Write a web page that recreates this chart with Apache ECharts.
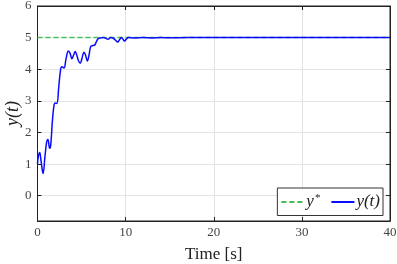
<!DOCTYPE html>
<html><head><meta charset="utf-8">
<script src="https://cdn.jsdelivr.net/npm/echarts@6/dist/echarts.min.js"></script>
<style>html,body{margin:0;padding:0;background:#fff}#c{width:397px;height:264px}</style>
</head><body><div id="c"></div>
<script>
var tValues = [0,0.1,0.25,0.4,0.63,0.85,1.05,1.18,1.38,1.5,1.7,1.88,2.0,2.2,2.4,2.6,2.75,3.0,3.25,3.5,3.7,3.9,4.1,4.28,4.45,4.65,4.85,5.05,5.28,5.45,5.66,5.85,6.04,6.3,6.5,6.7,6.9,7.2,7.5,7.8,8.0,8.3,8.6,8.85,9.1,9.3,9.5,9.7,9.87,10.1,10.3,11,12,13,14,15,17,20,25,30,35,40];
var yValues = [1.0,1.25,1.37,1.1,0.70,1.25,1.72,1.78,1.50,1.6,2.4,2.87,2.93,2.92,3.4,3.95,4.08,4.04,4.35,4.58,4.5,4.33,4.45,4.56,4.45,4.27,4.19,4.35,4.54,4.45,4.26,4.45,4.72,4.75,4.77,4.88,4.97,4.99,5.0,4.97,4.95,5.0,4.98,4.92,4.86,4.93,5.0,4.95,4.89,4.96,5.0,4.99,5.0,4.99,5.0,4.995,5.0,5.0,5.0,5.0,5.0,5.0];
var refValue = 5;
var xRange = [0, 40];
var yTicks = [0,1,2,3,4,5,6];
var yRange = [-0.8, 6];

var lineData = tValues.map(function(t,i){return [t, yValues[i]];});
var refData = [[xRange[0], refValue],[xRange[1], refValue]];
var serif = 'Liberation Serif';
var chart = echarts.init(document.getElementById('c'));
chart.setOption({
  animation:false,
  grid:{left:37.5,right:7,top:6,bottom:43,show:true,borderColor:'#222',borderWidth:1,containLabel:false,outerBoundsMode:'none'},
  xAxis:[{type:'value',min:xRange[0],max:xRange[1],interval:10,
    name:'Time [s]',nameLocation:'middle',nameGap:25,nameMoveOverlap:false,
    nameTextStyle:{fontFamily:serif,fontSize:17,color:'#222'},
    axisLine:{onZero:false,lineStyle:{color:'#222'}},
    axisTick:{inside:true,length:4,lineStyle:{color:'#222'}},
    axisLabel:{fontFamily:serif,fontSize:13,color:'#444',margin:5},
    splitLine:{show:true,lineStyle:{color:'#e3e3e3'}}},
   {type:'value',position:'top',min:xRange[0],max:xRange[1],interval:10,
    axisLine:{onZero:false,lineStyle:{color:'#222'}},
    axisTick:{inside:true,length:4,lineStyle:{color:'#222'}},
    axisLabel:{show:false},splitLine:{show:false}}],
  yAxis:[{type:'value',min:yRange[0],max:yRange[1],
    name:'y(t)',nameLocation:'middle',nameGap:15,nameRotate:90,nameMoveOverlap:false,
    nameTextStyle:{fontFamily:serif,fontSize:18,fontStyle:'italic',color:'#222'},
    axisLine:{show:true,onZero:false,lineStyle:{color:'#222'}},
    axisTick:{inside:true,length:4,customValues:yTicks,lineStyle:{color:'#222'}},
    axisLabel:{fontFamily:serif,fontSize:13,color:'#444',margin:6,customValues:yTicks},
    splitLine:{show:true,lineStyle:{color:'#e3e3e3'}}},
   {type:'value',position:'right',min:yRange[0],max:yRange[1],
    axisLine:{show:true,onZero:false,lineStyle:{color:'#222'}},
    axisTick:{inside:true,length:4,customValues:yTicks,lineStyle:{color:'#222'}},
    axisLabel:{show:false,customValues:yTicks},splitLine:{show:false}}],
  legend:{right:14,top:188,orient:'horizontal',itemWidth:23,itemHeight:12,itemGap:10,
    backgroundColor:'#fff',borderColor:'#333',borderWidth:1,padding:[5,3,5,3],
    itemStyle:{opacity:0},
    formatter:function(n){return n==='y*'?'{a|y}{s|*}':'{a|y(t)}';},
    textStyle:{fontFamily:serif,fontSize:17,color:'#222',padding:[0,0,0,-3],
      rich:{a:{fontFamily:serif,fontSize:17,fontStyle:'italic',color:'#222'},
            s:{fontFamily:serif,fontSize:11,color:'#222',verticalAlign:'top',padding:[0,0,7,1]}}},
    data:['y*','y(t)']},
  series:[
    {name:'y*',type:'line',data:refData,symbol:'none',
     lineStyle:{color:'#45bf55',width:1.5,type:[5,3]},itemStyle:{color:'#45bf55'},z:3},
    {name:'y(t)',type:'line',data:lineData,symbol:'none',smooth:0.4,
     lineStyle:{color:'#0a0aff',width:1.5},itemStyle:{color:'#0a0aff'},z:4}
  ]
});
</script></body></html>
